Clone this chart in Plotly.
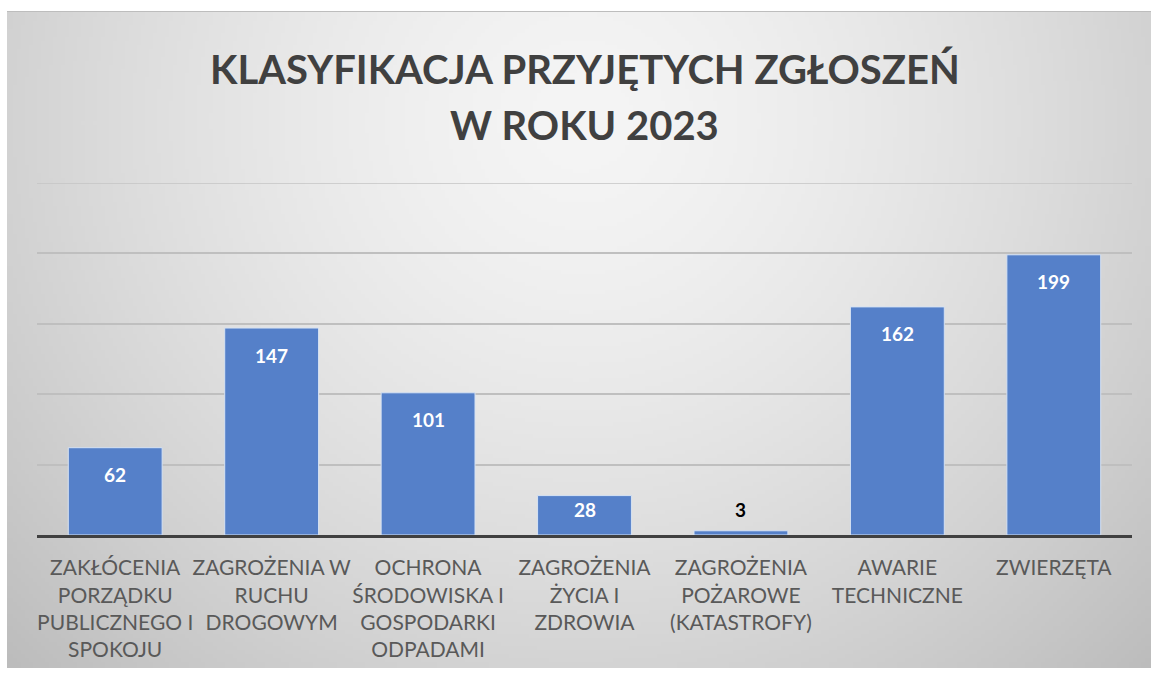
import base64, struct, zlib
import numpy as np
import plotly.graph_objects as go

# ---------------- data ----------------
categories = [
    "ZAKŁÓCENIA<br>PORZĄDKU<br>PUBLICZNEGO I<br>SPOKOJU",
    "ZAGROŻENIA W<br>RUCHU<br>DROGOWYM",
    "OCHRONA<br>ŚRODOWISKA I<br>GOSPODARKI<br>ODPADAMI",
    "ZAGROŻENIA<br>ŻYCIA I<br>ZDROWIA",
    "ZAGROŻENIA<br>POŻAROWE<br>(KATASTROFY)",
    "AWARIE<br>TECHNICZNE",
    "ZWIERZĘTA",
]
values = [62, 147, 101, 28, 3, 162, 199]
title_line1 = "KLASYFIKACJA PRZYJĘTYCH ZGŁOSZEŃ"
title_line2 = "W ROKU 2023"

# ---------------- layout geometry ----------------
W, H = 1151, 679
ML, MR, MT, MB = 37, 19, 183, 144
YMAX = 250
plot_h = H - MT - MB
plot_w = W - ML - MR

def px_to_paper_x(px):
    return (px - ML) / plot_w

def px_to_paper_y(py):
    return (H - MB - py) / plot_h

# ---------------- radial gradient background (PNG) ----------------
def make_png(arr):
    h, w = arr.shape[:2]
    raw = b"".join(b"\x00" + arr[i].tobytes() for i in range(h))
    def chunk(tag, data):
        c = struct.pack(">I", len(data)) + tag + data
        return c + struct.pack(">I", zlib.crc32(tag + data) & 0xffffffff)
    png = b"\x89PNG\r\n\x1a\n"
    png += chunk(b"IHDR", struct.pack(">IIBBBBB", w, h, 8, 2, 0, 0, 0))
    png += chunk(b"IDAT", zlib.compress(raw, 9))
    png += chunk(b"IEND", b"")
    return "data:image/png;base64," + base64.b64encode(png).decode()

bx0, by0, bx1, by1 = 7, 11, 1151, 668
gw, gh = 286, 164
xs = np.linspace(bx0, bx1, gw)
ys = np.linspace(by0, by1, gh)
X, Y = np.meshgrid(xs, ys)
r = np.sqrt(((X - 582) / 700.0) ** 2 + ((Y - 120) / 680.0) ** 2)
v = np.clip(245 - 46 * r ** 1.5, 180, 250).astype(np.uint8)
img = np.stack([v, v, v], axis=-1)
bg_src = make_png(img)

# ---------------- figure ----------------
fig = go.Figure()
fig.add_trace(go.Bar(
    x=list(range(len(values))),
    y=values,
    marker=dict(color="#5580C9", line=dict(color="#D6E2F3", width=1)),
    width=0.6,
    hoverinfo="skip",
))

annotations = []
for i, val in enumerate(values):
    bar_px = val / YMAX * plot_h
    if bar_px > 30:
        shift = -min(27, bar_px * 0.35)
        col = "#FFFFFF"
    else:
        shift = 21
        col = "#000000"
    annotations.append(dict(
        x=i, y=val, xref="x", yref="y", text=f"<b>{val}</b>", showarrow=False,
        yanchor="middle", yshift=shift,
        font=dict(family="Lato", size=19, color=col),
    ))

annotations.append(dict(
    x=0.5, y=px_to_paper_y(69), xref="paper", yref="paper", text=f"<b>{title_line1}</b>",
    showarrow=False, yanchor="middle", xanchor="center",
    font=dict(family="Lato", size=40, color="#404040"),
))
annotations.append(dict(
    x=0.5, y=px_to_paper_y(125), xref="paper", yref="paper", text=f"<b>{title_line2}</b>",
    showarrow=False, yanchor="middle", xanchor="center",
    font=dict(family="Lato", size=40, color="#404040"),
))

fig.update_layout(
    width=W, height=H,
    margin=dict(l=ML, r=MR, t=MT, b=MB, pad=0, autoexpand=False),
    paper_bgcolor="#FFFFFF",
    plot_bgcolor="rgba(0,0,0,0)",
    showlegend=False,
    annotations=annotations,
    images=[dict(
        source=bg_src, xref="paper", yref="paper",
        x=px_to_paper_x(bx0), y=px_to_paper_y(by0),
        sizex=px_to_paper_x(bx1) - px_to_paper_x(bx0),
        sizey=px_to_paper_y(by0) - px_to_paper_y(by1),
        xanchor="left", yanchor="top", sizing="stretch", layer="below",
    )],
    shapes=[
        dict(
            type="line", xref="paper", yref="paper",
            x0=px_to_paper_x(bx0), x1=px_to_paper_x(bx1),
            y0=px_to_paper_y(by0 + 0.5), y1=px_to_paper_y(by0 + 0.5),
            line=dict(color="#BDBDBD", width=1), layer="below",
        ),
        dict(
            type="line", xref="paper", yref="y",
            x0=0, x1=1, y0=YMAX, y1=YMAX,
            line=dict(color="#C4C4C4", width=1.5), layer="below",
        ),
    ],
    xaxis=dict(
        tickmode="array", tickvals=list(range(len(categories))), ticktext=categories,
        range=[-0.5, len(categories) - 0.5],
        showline=True, linecolor="#404040", linewidth=3,
        ticks="outside", ticklen=12, tickcolor="rgba(0,0,0,0)",
        tickangle=0, automargin=False,
        tickfont=dict(family="Lato", size=21, color="#595959"),
        showgrid=False, zeroline=False, fixedrange=True,
    ),
    yaxis=dict(
        range=[0, YMAX], tick0=0, dtick=50, automargin=False,
        showgrid=True, gridcolor="#BFBFBF", gridwidth=1.5,
        showticklabels=False, zeroline=False, showline=False, fixedrange=True,
    ),
)

fig.write_html("out.html")
